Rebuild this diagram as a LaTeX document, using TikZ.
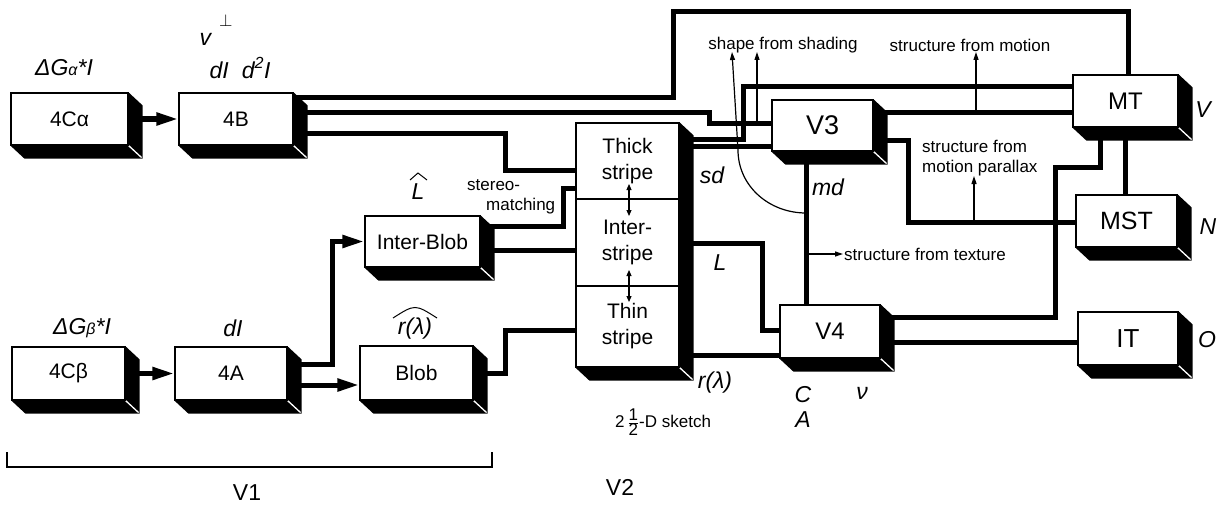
\documentclass[tikz,border=0pt]{standalone}
\usepackage{fontspec}
\setmainfont{Liberation Sans}
\usetikzlibrary{arrows.meta,calc,backgrounds}
\newcommand\boxsides[2]{%
  \fill[black] (#1.north east) -- ++(14,13) -- ($(#2.south east)+(14,13)$) -- ($(#2.south west)+(14,13)$) -- (#2.south west) -- (#2.south east) -- cycle;
  \draw[white,line width=1.3pt] (#2.south east) -- ++(13,12);
  \draw[black,line width=1.2pt] (#1.north east) -- (#2.south east) -- (#2.south west);
}
\begin{document}
\begin{tikzpicture}[x=1pt,y=-1pt,
  box/.style={draw=black,line width=1.2pt,fill=white,inner sep=0pt,align=center,font=\fontsize{21}{26}\selectfont},
  conn/.style={line width=5pt},
  arr/.style={conn,-{Triangle[length=22pt,width=12pt]}},
  thinarr/.style={line width=1.2pt,-{Triangle[length=8pt,width=5pt]}},
  dbl/.style={line width=1.1pt,{Triangle[length=6pt,width=5pt]}-{Triangle[length=6pt,width=5pt]}},
  lab/.style={inner sep=1pt,font=\fontsize{23}{27}\selectfont\itshape},
  small/.style={inner sep=1pt,font=\fontsize{17}{20}\selectfont},
  big/.style={inner sep=1pt,font=\fontsize{23}{27}\selectfont},
  hat/.style={line width=1pt}]
\useasboundingbox (0,0) rectangle (1222,508);
\begin{scope}[on background layer]\fill[white] (0,0) rectangle (1222,508);\end{scope}

% ---------- boxes ----------
\node[box,minimum width=117pt,minimum height=52pt] (n4Ca) at (69.5,119) {4Cα};
\node[box,minimum width=114pt,minimum height=52pt] (n4B) at (236,119) {4B};
\node[box,minimum width=113pt,minimum height=53pt] (n4Cb) at (68.5,373.5) {4Cβ};
\node[box,minimum width=112pt,minimum height=53pt] (n4A) at (231,373.5) {4A};
\node[box,minimum width=113pt,minimum height=54pt] (nBlob) at (416.5,373) {Blob};
\node[box,minimum width=115pt,minimum height=51pt] (nIB) at (422.5,241.5) {Inter-Blob};
\node[box,minimum width=103pt,minimum height=76pt] (nThick) at (627.5,161) {Thick\\stripe};
\node[box,minimum width=103pt,minimum height=87pt] (nInter) at (627.5,242.5) {Inter-\\stripe};
\node[box,minimum width=103pt,minimum height=81pt] (nThin) at (627.5,326.5) {Thin\\stripe};
\node[box,minimum width=101pt,minimum height=51pt,font=\fontsize{27}{30}\selectfont] (nV3) at (822.5,125.5) {V3};
\node[box,minimum width=105pt,minimum height=52pt,font=\fontsize{24}{28}\selectfont] (nMT) at (1125.5,101) {MT};
\node[box,minimum width=101pt,minimum height=52pt,font=\fontsize{25}{28}\selectfont] (nMST) at (1126.5,221) {MST};
\node[box,minimum width=100pt,minimum height=53pt,font=\fontsize{26}{30}\selectfont] (nIT) at (1128,338.5) {IT};
\node[box,minimum width=100pt,minimum height=53pt,font=\fontsize{24}{28}\selectfont] (nV4) at (830,331.5) {V4};

\boxsides{n4Ca}{n4Ca}
\boxsides{n4B}{n4B}
\boxsides{n4Cb}{n4Cb}
\boxsides{n4A}{n4A}
\boxsides{nBlob}{nBlob}
\boxsides{nIB}{nIB}
\boxsides{nThick}{nThin}
\boxsides{nV3}{nV3}
\boxsides{nMT}{nMT}
\boxsides{nMST}{nMST}
\boxsides{nIT}{nIT}
\boxsides{nV4}{nV4}

% ---------- thick connectors ----------
\begin{scope}[on background layer]
\draw[arr] (n4Ca.east) -- (n4B.west);
\draw[arr] (n4Cb.east) -- (n4A.west);
\draw[arr] (n4A.east |- 0,385) -- (nBlob.west |- 0,385);
\draw[arr] (n4A.east |- 0,364) -- (332,364) -- (332,241.5) -- (nIB.west);
\draw[conn] (nBlob.east |- 0,373) -- (505,373) -- (505,330) -- (nThin.west |- 0,330);
\draw[conn] (nIB.east |- 0,250) -- (nInter.west |- 0,250);
\draw[conn] (nIB.east |- 0,226) -- (563,226) -- (563,188) -- (nThick.west |- 0,188);
\draw[conn] (n4B.east |- 0,98) -- (673,98) -- (673,12) -- (1128,12) -- (1128,0 |- nMT.north);
\draw[conn] (n4B.east |- 0,113) -- (709,113) -- (709,123) -- (nV3.west |- 0,123);
\draw[conn] (n4B.east |- 0,133) -- (505,133) -- (505,170) -- (nThick.west |- 0,170);
\draw[conn] (nThick.east |- 0,139) -- (743,139) -- (743,87) -- (nMT.west |- 0,87);
\draw[conn] (nThick.east |- 0,146) -- (nV3.west |- 0,146);
\draw[conn] (nV3.east |- 0,113) -- (nMT.west |- 0,113);
\draw[conn] (nV3.east |- 0,140) -- (908,140) -- (908,222) -- (nMST.west |- 0,222);
\draw[conn] (nMT.south) -- (nMT.south |- nMST.north);
\draw[conn] (1100,0 |- nMT.south) -- (1100,167) -- (1055,167) -- (1055,317) -- (nV4.east |- 0,317);
\draw[conn] (nV4.east |- 0,342) -- (nIT.west |- 0,342);
\draw[conn] (806,0 |- nV3.south) -- (806,0 |- nV4.north);
\draw[conn] (nInter.east |- 0,243) -- (762,243) -- (762,330) -- (nV4.west |- 0,330);
\draw[conn] (nThin.east |- 0,355) -- (nV4.west |- 0,355);
\end{scope}

% ---------- thin arrows ----------
\coordinate (mdarc) at (806,213);
\draw[thinarr] (mdarc) .. controls (769,213) and (738,186) .. (738,150) -- (732,52);
\draw[thinarr] (757,123) -- (757,52);
\draw[thinarr] (976,113) -- (976,52);
\draw[thinarr] (974,222) -- (974,176);
\draw[thinarr] (806,254) -- (843,254);
\draw[dbl] (629,184) -- (629,216);
\draw[dbl] (629,270) -- (629,302);

% ---------- V1 bracket ----------
\draw[line width=1.5pt] (7,452) -- (7,467) -- (492,467) -- (492,452);

% ---------- labels ----------
\node[lab] (lGa) at (64,68) {ΔG{\fontsize{16}{16}\selectfont α}*I};
\node[lab] (lGb) at (82,328) {ΔG{\fontsize{16}{16}\selectfont β}*I};
\node[lab] (lv) at (216,30) {v\hspace{8pt}\raisebox{0.8em}{\fontsize{17}{17}\selectfont$\perp$}};
\node[lab] (ld) at (240,68) {dI\hspace{13pt}d\textsuperscript{2}I};
\node[lab] (ldA) at (233,328) {dI};
\node[lab] (lrl) at (415,329) {r(λ)};
\draw[hat] (393,318) .. controls (415,304) .. (437,318);
\node[lab] (lL) at (418,192) {L};
\draw[hat] (410,180) -- (418,173) -- (427,180);
\node[small,anchor=west,align=left] (lst) at (466,197) {stereo-\\\hspace*{19pt}matching};
\node[lab] (lsd) at (712,175) {sd};
\node[lab] (lLL) at (720,263) {L};
\node[lab] (lrl2) at (715,383) {r(λ)};
\node[lab] (lmd) at (828,187) {md};
\node[lab] (lC) at (803,395) {C};
\node[lab] (lA) at (803,420) {A};
\node[lab] (lnu) at (862,393) {ν};
\node[lab] (lV) at (1203,110) {V};
\node[lab] (lN) at (1208,227) {N};
\node[lab] (lO) at (1207,340) {O};
\node[small] (lsh) at (783,45) {shape from shading};
\node[small] (lsm) at (970,45) {structure from motion};
\node[small,anchor=west,align=left] (lsp) at (921,158) {structure from\\motion parallax};
\node[small,anchor=west] (lstx) at (843,254) {structure from texture};
\node[inner sep=1pt,font=\fontsize{17}{20}\selectfont] (lsk) at (663,422) {2\,$\frac{\mbox{1}}{\mbox{2}}$-D sketch};
\node[big] (lV1) at (247,493) {V1};
\node[big] (lV2) at (620,487) {V2};
\end{tikzpicture}
\end{document}
